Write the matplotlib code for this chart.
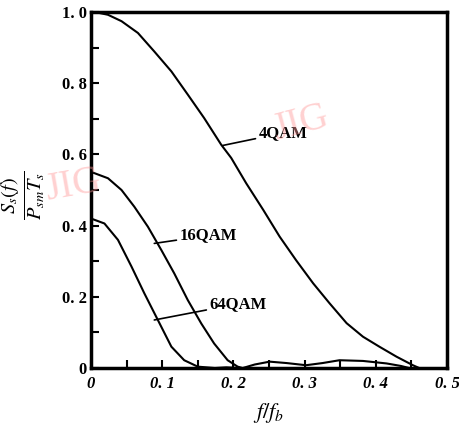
import matplotlib
matplotlib.use("Agg")
import matplotlib.pyplot as plt
from matplotlib.ticker import MultipleLocator, FixedLocator

# values
f_4qam = [0, 0.005, 0.024, 0.043, 0.066, 0.089, 0.113, 0.136, 0.159, 0.183, 0.197,
          0.218, 0.242, 0.265, 0.288, 0.312, 0.335, 0.359, 0.382, 0.405, 0.429,
          0.452, 0.461]
s_4qam = [1.0, 1.0, 0.992, 0.974, 0.941, 0.889, 0.833, 0.768, 0.702, 0.627, 0.59,
          0.519, 0.444, 0.369, 0.303, 0.238, 0.182, 0.126, 0.088, 0.06, 0.032,
          0.008, 0.0]

f_16qam = [0, 0.024, 0.043, 0.061, 0.08, 0.099, 0.117, 0.136, 0.155, 0.173, 0.192,
           0.206, 0.213, 0.23, 0.251, 0.275, 0.302, 0.325, 0.349, 0.382, 0.415,
           0.435, 0.447]
s_16qam = [0.551, 0.533, 0.5, 0.453, 0.397, 0.331, 0.266, 0.191, 0.125, 0.069, 0.022,
           0.004, 0.0, 0.01, 0.018, 0.014, 0.008, 0.014, 0.022, 0.02, 0.013,
           0.006, 0.0]

f_64qam = [0, 0.019, 0.038, 0.057, 0.075, 0.094, 0.113, 0.131, 0.15, 0.174, 0.19, 0.21]
s_64qam = [0.42, 0.406, 0.36, 0.285, 0.21, 0.135, 0.06, 0.022, 0.004, 0.0, 0.002, 0.0]

x_ticks = [0, 0.1, 0.2, 0.3, 0.4, 0.5]
x_labels = ["0", "0. 1", "0. 2", "0. 3", "0. 4", "0. 5"]
y_ticks = [0, 0.2, 0.4, 0.6, 0.8, 1.0]
y_labels = ["0", "0. 2", "0. 4", "0. 6", "0. 8", "1. 0"]

plt.rcParams["font.family"] = ["Liberation Serif", "DejaVu Serif"]
plt.rcParams["mathtext.fontset"] = "stix"

fig = plt.figure(figsize=(4.59, 4.26), dpi=100)
ax = fig.add_axes([0.198, 0.136, 0.776, 0.836])

for fx, sy in [(f_4qam, s_4qam), (f_16qam, s_16qam), (f_64qam, s_64qam)]:
    ax.plot(fx, sy, color="black", lw=1.5, solid_joinstyle="round")

ax.set_xlim(0, 0.5)
ax.set_ylim(0, 1.0)
for sp in ax.spines.values():
    sp.set_linewidth(2.5)

ax.xaxis.set_major_locator(FixedLocator(x_ticks))
ax.set_xticklabels(x_labels, fontsize=12, fontweight="bold", style="italic")
ax.xaxis.set_minor_locator(MultipleLocator(0.05))
ax.yaxis.set_major_locator(FixedLocator(y_ticks))
ax.set_yticklabels(y_labels, fontsize=12, fontweight="bold")
ax.yaxis.set_minor_locator(MultipleLocator(0.1))
ax.tick_params(which="both", direction="in", width=1.5, length=6, top=False, right=False)
ax.tick_params(axis="x", pad=6)
ax.tick_params(axis="y", pad=3)

# curve labels with leader lines
line_kw = dict(arrowstyle="-", color="black", lw=1.2, shrinkA=0, shrinkB=0)
txt_kw = dict(fontsize=12, fontweight="bold", va="center", ha="left")
ax.annotate("4QAM", xy=(0.185, 0.625), xytext=(0.235, 0.66),
            arrowprops=line_kw, **txt_kw)
ax.annotate("16QAM", xy=(0.089, 0.35), xytext=(0.124, 0.372),
            arrowprops=line_kw, **txt_kw)
ax.annotate("64QAM", xy=(0.089, 0.135), xytext=(0.166, 0.18),
            arrowprops=line_kw, **txt_kw)

ax.set_xlabel(r"$f/f_b$", fontsize=16, labelpad=6)
fig.text(0.05, 0.54, r"$\frac{S_s(f)}{P_{sm}T_s}$", rotation=90,
         fontsize=21, ha="center", va="center")

# faint scan watermarks
wm = dict(color="#ff9999", alpha=0.45, fontsize=28, ha="center", va="center")
fig.text(0.655, 0.71, "JIG", rotation=15, **wm)
fig.text(0.16, 0.565, "JIG", rotation=10, **wm)

fig.savefig("out.png", dpi=100)
